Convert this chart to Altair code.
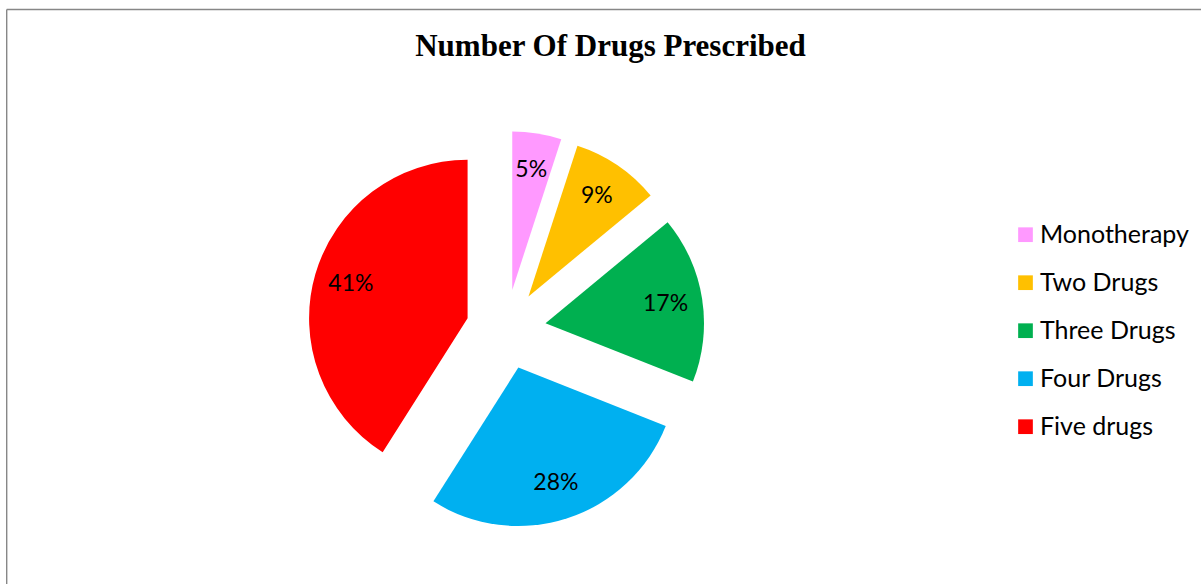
import altair as alt
import pandas as pd

# ---- data ----
CATEGORIES = ["Monotherapy", "Two Drugs", "Three Drugs", "Four Drugs", "Five drugs"]
PERCENTS = [5, 9, 17, 28, 41]
COLORS = ["#FF99FF", "#FFC000", "#00B050", "#00B0F0", "#FF0000"]
TITLE = "Number Of Drugs Prescribed"

# ---- layout / style constants ----
W, H = 1201, 584
CX, CY = 506, 329.5        # pie centre (before explosion)
EXPLODE = 40               # explosion distance of every slice
R = 158.5                  # slice radius
LABEL_R = 121.5            # label distance from slice apex

df = pd.DataFrame({"category": CATEGORIES, "value": PERCENTS,
                   "order": list(range(len(CATEGORIES)))})

base = alt.Chart(df).transform_joinaggregate(
    total="sum(value)"
).transform_window(
    cum="sum(value)", sort=[alt.SortField("order")], frame=[None, 0]
).transform_calculate(
    t1="2*PI*datum.cum/datum.total",
    t0="2*PI*(datum.cum-datum.value)/datum.total",
).transform_calculate(
    mid="(datum.t0+datum.t1)/2"
).transform_calculate(
    px=f"{CX}+{EXPLODE}*sin(datum.mid)",
    py=f"{CY}-{EXPLODE}*cos(datum.mid)",
).transform_calculate(
    lx=f"datum.px+{LABEL_R}*sin(datum.mid)",
    ly=f"datum.py-{LABEL_R}*cos(datum.mid)",
    label="datum.value + '%'",
)

arcs = base.mark_arc(outerRadius=R, innerRadius=0, stroke=None).encode(
    x=alt.X("px:Q", scale=None),
    y=alt.Y("py:Q", scale=None),
    theta=alt.Theta("t0:Q", scale=None),
    theta2=alt.Theta2("t1:Q"),
    color=alt.Color(
        "category:N",
        scale=alt.Scale(domain=CATEGORIES, range=COLORS),
        sort=CATEGORIES,
        legend=alt.Legend(
            title=None,
            orient="none",
            legendX=1013,
            legendY=222.2,
            padding=0,
            symbolType="square",
            symbolSize=216,
            symbolStrokeWidth=0,
            labelFont="Lato",
            labelFontSize=25,
            labelColor="#000000",
            labelOffset=2,
            rowPadding=22,
            labelLimit=300,
        ),
    ),
)

labels = base.mark_text(font="Lato", fontSize=23, color="#000000",
                        align="center", baseline="middle").encode(
    x=alt.X("lx:Q", scale=None),
    y=alt.Y("ly:Q", scale=None),
    text="label:N",
)

title = alt.Chart(alt.Data(values=[{}])).mark_text(
    font="Liberation Serif", fontSize=31, fontWeight="bold", color="#000000",
    align="center", baseline="alphabetic",
).encode(x=alt.value(610.5), y=alt.value(56), text=alt.value(TITLE))

frame_top = alt.Chart(alt.Data(values=[{}])).mark_rule(
    color="#878787", strokeWidth=1.4
).encode(x=alt.value(6.7), x2=alt.value(W), y=alt.value(9.5))

frame_left = alt.Chart(alt.Data(values=[{}])).mark_rule(
    color="#878787", strokeWidth=1.4
).encode(x=alt.value(6.7), y=alt.value(9.5), y2=alt.value(H))

chart = alt.layer(frame_top, frame_left, arcs, labels, title).properties(
    width=W, height=H, padding=0, autosize=alt.AutoSizeParams(type="none"),
    background="#FFFFFF",
).configure_view(strokeWidth=0)

chart.save("out.html", embed_options={"renderer": "svg", "actions": False})
